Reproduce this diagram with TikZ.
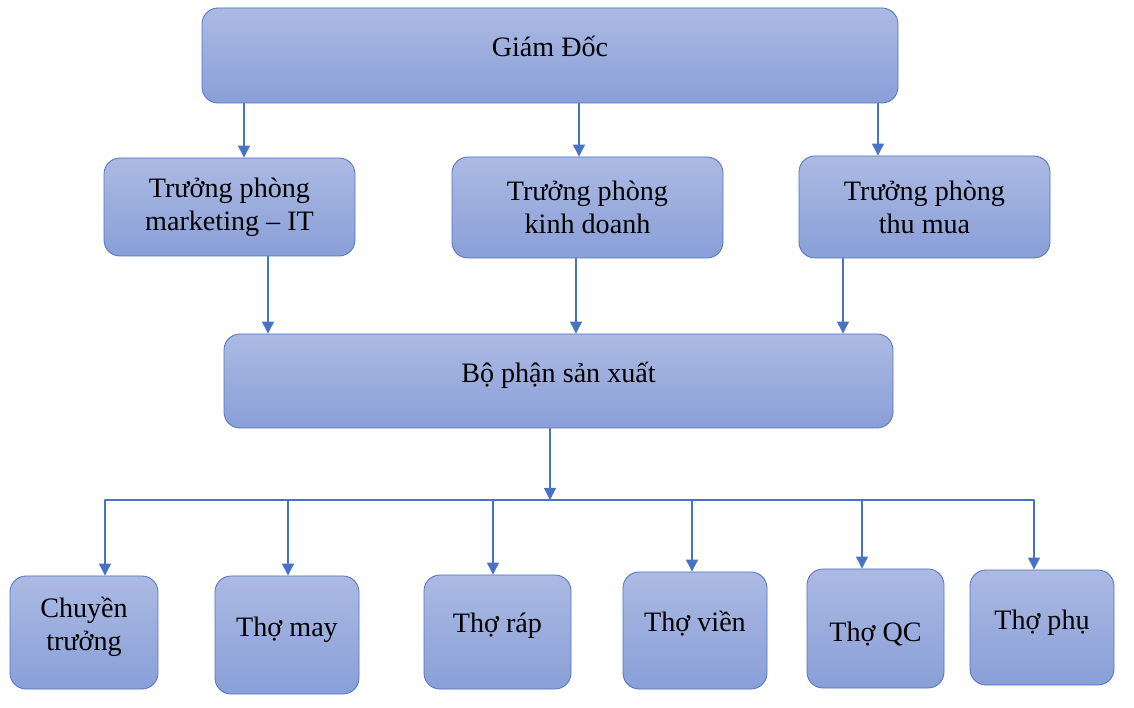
\documentclass[tikz,border=0pt]{standalone}
\usepackage{fontspec}
\setmainfont{Liberation Serif}
\usepackage{tikz}
\usetikzlibrary{arrows.meta}

\begin{document}
\begin{tikzpicture}
		[x=0.025cm,y=-0.025cm,line cap=round,
		%Styles
		box/.style 2 args={draw=boxline,line width=0.6pt,rounded corners=0.4cm,
			top color=boxtop,bottom color=boxbottom,
			minimum width=#1*0.025cm,minimum height=#2*0.025cm,
			align=center,inner sep=0pt,font=\fontsize{20}{23.5}\selectfont},
		link/.style={draw=arrowcolor,line width=0.8pt},
		arrow/.style={link,-{Triangle[width=0.3cm,length=0.3cm]}}
		]
		
		%Colors
		\definecolor{boxtop}{RGB}{172,186,227}
		\definecolor{boxbottom}{RGB}{137,159,215}
		\definecolor{boxline}{RGB}{80,116,196}
		\definecolor{arrowcolor}{RGB}{72,114,196}
		
		\useasboundingbox (0,0) rectangle (1134,708);
		
		%The graphic
		\node[box={696}{95}] (gd) at (550,55.5) {\raisebox{0.48cm}{Giám Đốc}};
		
		\node[box={251}{98}] (tpmk) at (229.5,207) {Trưởng phòng\\marketing – IT};
		\node[box={271}{101}] (tpkd) at (587.5,207.5) {Trưởng phòng\\kinh doanh};
		\node[box={251}{102}] (tptm) at (924.5,207) {Trưởng phòng\\thu mua};
		
		\node[box={669}{94}] (bpsx) at (558.5,381) {\raisebox{0.42cm}{Bộ phận sản xuất}};
		
		\node[box={148}{113},text depth=0.42cm] (ct) at (84,632.5) {Chuyền\\trưởng};
		\node[box={144}{118}] (tmay) at (287,635) {\raisebox{0.42cm}{Thợ may}};
		\node[box={147}{114}] (trap) at (497.5,632) {\raisebox{0.47cm}{Thợ ráp}};
		\node[box={144}{117}] (tvien) at (695,630.5) {\raisebox{0.47cm}{Thợ viền}};
		\node[box={137}{119},text height=0.75cm] (tqc) at (875.5,628.5) {Thợ QC};
		\node[box={144}{115}] (tphu) at (1042,627.5) {\raisebox{0.4cm}{Thợ phụ}};
		
		%director -> heads
		\foreach \n/\dx in {tpmk/14.5,tpkd/-8.5,tptm/-46.5}
			\draw[arrow] ([xshift=\dx*0.025cm]\n.north |- gd.south) -- ([xshift=\dx*0.025cm]\n.north);
		
		%heads -> production
		\foreach \n/\dx in {tpmk/38.5,tpkd/-11.5,tptm/-81.5}
			\draw[arrow] ([xshift=\dx*0.025cm]\n.south) -- ([xshift=\dx*0.025cm]\n.south |- bpsx.north);
		
		%production -> workers
		\coordinate (busL) at (105,500);
		\coordinate (busR) at (1034,500);
		\draw[arrow] ([xshift=-0.2125cm]bpsx.south) -- ([xshift=-0.2125cm]bpsx.south |- busL);
		\draw[link] (busL) -- (busR);
		\foreach \n/\dx in {ct/21,tmay/1,trap/-4.5,tvien/-3,tqc/-13.5,tphu/-8}
			\draw[arrow] ([xshift=\dx*0.025cm]\n.north |- busL) -- ([xshift=\dx*0.025cm]\n.north);
	\end{tikzpicture}
\end{document}
